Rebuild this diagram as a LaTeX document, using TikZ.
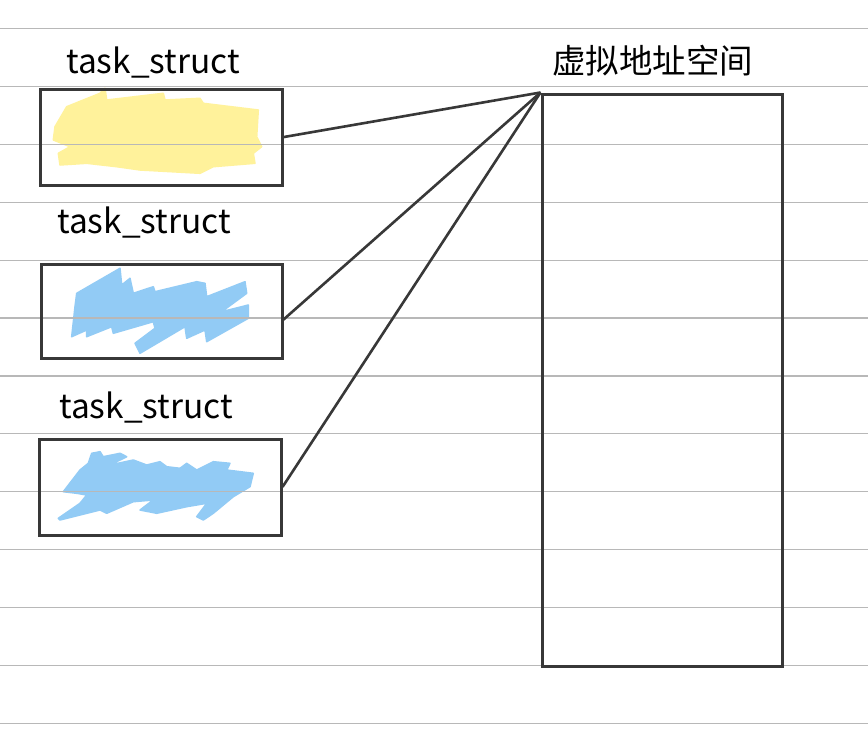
\documentclass[tikz,border=0pt]{standalone}
\usepackage{fontspec}
\setmainfont{Noto Sans CJK SC}
\begin{document}
\begin{tikzpicture}[x=1pt,y=-1pt,
  ruled/.style={draw=black!28,line width=1.2pt},
  box/.style={draw=black!78,line width=3pt,fill=none,inner sep=0pt},
  conn/.style={draw=black!78,line width=2.6pt},
  lbl/.style={anchor=base west,inner sep=0pt,font=\fontsize{33.5}{40}\selectfont},
  yel/.style={fill={rgb,255:red,255;green,242;blue,155},draw={rgb,255:red,255;green,242;blue,155},line width=1.5pt,line join=round},
  blu/.style={fill={rgb,255:red,146;green,203;blue,245},draw={rgb,255:red,146;green,203;blue,245},line width=1.5pt,line join=round}]
\useasboundingbox[fill=white] (0,0) rectangle (868,739);
% scribbles
\filldraw[yel] (55,126.7)--(66.7,106.7)--(100,93.3)--(105,88.3)--(106.7,100)--(163.3,93.3)--(165,100)--(200,98.3)--(203.3,103.3)--(258.3,110)--(256.7,136.7)--(261.7,146.7)--(253.3,153.3)--(255,163.3)--(213.3,166.7)--(200,173.3)--(140,170)--(116.7,166.7)--(86.7,163.3)--(60,165)--(58.3,153.3)--(70,146.7)--(53.3,140)--cycle;
\filldraw[blu] (76.7,293.3)--(120,268.3)--(121.7,285)--(130,278.3)--(133.3,293.3)--(153.3,286.7)--(155,291.7)--(196.7,281.7)--(205,283.3)--(206.7,296.7)--(245,281.7)--(246.7,293.3)--(221.7,311.7)--(248.3,305)--(248.3,318.3)--(206.7,341.7)--(205,330)--(186.7,338.3)--(185,326.7)--(140,353.3)--(135,343.3)--(155,328.3)--(153.3,321.7)--(113.3,333.3)--(111.7,326.7)--(86.7,336.7)--(86.7,330)--(71.7,336.7)--(75,306.7)--cycle;
\filldraw[blu] (63.3,491.7)--(80,470)--(88.3,463.3)--(91.7,453.3)--(100,451.7)--(103.3,456.7)--(120,453.3)--(126.7,456.7)--(110,465)--(133.3,460)--(146.7,465)--(160,461.7)--(166.7,466.7)--(180,468.3)--(186.7,463.3)--(196.7,470)--(213.3,461.7)--(230,463.3)--(226.7,470)--(253.3,473.3)--(250,486.7)--(233.3,496.7)--(213.3,513.3)--(203.3,520)--(196.7,516.7)--(206.7,503.3)--(186.7,506.7)--(156.7,513.3)--(140,510)--(153.3,500)--(133.3,501.7)--(106.7,513.3)--(100,510)--(80,515)--(60,520)--(58.3,518.3)--(80,503.3)--(86.7,495)--(76.7,493.3)--cycle;
% ruled lines
\foreach \k in {0,...,12}{
  \draw[ruled] (0,28.5+57.9*\k) -- (868,28.5+57.9*\k);
}
% boxes
\node[box,minimum width=242pt,minimum height=96pt] (b1) at (161.5,137) {};
\node[box,minimum width=241pt,minimum height=94pt] (b2) at (162,311) {};
\node[box,minimum width=242pt,minimum height=96pt] (b3) at (160,487) {};
\node[box,minimum width=240pt,minimum height=572pt] (vas) at (662,380) {};
\coordinate (e2) at (283,320);
% labels
\node[lbl] (t1) at (66,73) {task\_struct};
\node[lbl] (t2) at (57,233) {task\_struct};
\node[lbl] (t3) at (59,418) {task\_struct};
\node[lbl] (t4) at (552,73) {虚拟地址空间};
% connectors
\draw[conn] (vas.north west) -- (b1.east);
\draw[conn] (vas.north west) -- (e2);
\draw[conn] (vas.north west) -- (b3.east);
\end{tikzpicture}
\end{document}
